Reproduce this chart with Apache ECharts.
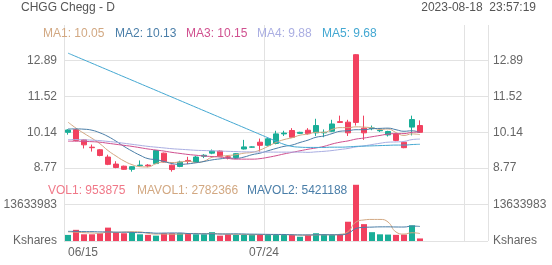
<!DOCTYPE html>
<html><head><meta charset="utf-8">
<script src="https://cdn.jsdelivr.net/npm/echarts@6/dist/echarts.min.js"></script>
<style>html,body{margin:0;padding:0;background:#fff}#c{width:552px;height:265px}</style>
</head><body><div id="c"></div>
<script>
// ---- data ----
const categories = ['06/15','06/16','06/20','06/21','06/22','06/23','06/26','06/27','06/28','06/29','06/30',
  '07/03','07/05','07/06','07/07','07/10','07/11','07/12','07/13','07/14','07/17','07/18','07/19','07/20','07/21',
  '07/24','07/25','07/26','07/27','07/28','07/31','08/01','08/02','08/03','08/04','08/07','08/08','08/09','08/10',
  '08/11','08/14','08/15','08/16','08/17','08/18',
  '08/21','08/22','08/23','08/24','08/25','08/28','08/29','08/30'];
const tradingDays = 45;
// [open, close, low, high]
const candles = [
  [10.14,10.23,10.05,10.26],[10.24,9.83,9.80,10.27],[9.85,9.66,9.52,9.88],[9.57,9.55,9.40,9.67],
  [9.47,9.25,9.22,9.50],[9.19,8.91,8.88,9.28],[8.92,8.79,8.76,9.03],[8.84,8.72,8.70,8.86],
  [8.72,8.82,8.63,8.84],[8.86,8.88,8.82,9.06],[8.88,8.85,8.80,8.92],[8.94,9.44,8.92,9.45],
  [9.34,9.00,8.98,9.36],[8.88,8.71,8.63,8.90],[8.83,9.00,8.80,9.05],[9.06,9.02,8.92,9.20],
  [9.00,9.19,8.98,9.23],[9.22,9.26,9.15,9.30],[9.34,9.42,9.30,9.48],[9.42,9.22,9.20,9.45],
  [9.20,9.18,9.10,9.25],[9.17,9.32,9.12,9.34],[9.50,9.58,9.48,9.85],[9.57,9.58,9.55,9.60],
  [9.76,9.64,9.40,9.90],[9.64,9.89,9.62,9.92],[9.71,10.08,9.68,10.20],[10.08,10.11,10.00,10.20],
  [10.21,9.95,9.93,10.30],[10.10,10.14,10.08,10.16],[10.22,10.09,10.05,10.30],[10.12,10.40,10.00,10.66],
  [10.12,10.14,9.95,10.25],[10.18,10.46,10.15,10.62],[10.55,10.52,10.50,10.78],[10.53,10.12,10.00,10.62],
  [13.12,10.52,10.40,13.14],[10.30,10.12,9.85,10.78],[10.28,10.31,10.22,10.40],[10.20,10.22,10.15,10.28],
  [10.04,10.17,9.98,10.20],[10.08,9.83,9.80,10.10],[9.76,9.55,9.53,9.78],[10.34,10.63,10.02,10.78],
  [10.40,10.14,10.12,10.60]
];
const ma1 = [10.53,10.30,10.10,9.91,9.70,9.44,9.23,9.04,8.90,8.82,8.81,8.94,9.00,8.98,9.00,9.03,8.98,9.03,9.18,9.22,
  9.25,9.28,9.34,9.37,9.46,9.60,9.75,9.86,9.93,10.03,10.07,10.14,10.14,10.25,10.32,10.32,10.35,10.34,10.31,10.25,
  10.27,10.13,10.02,10.08,10.05];
const ma2 = [10.27,10.27,10.26,10.22,10.12,9.98,9.80,9.60,9.42,9.26,9.13,9.09,9.02,8.94,8.91,8.93,8.97,9.02,9.08,9.12,
  9.15,9.14,9.19,9.28,9.34,9.43,9.52,9.60,9.65,9.75,9.84,9.95,10.00,10.09,10.18,10.20,10.24,10.24,10.28,10.29,
  10.30,10.24,10.18,10.20,10.13];
const ma3 = [9.80,9.80,9.79,9.78,9.76,9.72,9.68,9.64,9.60,9.55,9.50,9.46,9.42,9.37,9.33,9.29,9.26,9.23,9.21,9.19,
  9.14,9.11,9.11,9.11,9.13,9.18,9.24,9.31,9.37,9.43,9.49,9.54,9.60,9.69,9.76,9.81,9.88,9.92,9.97,10.02,
  10.07,10.09,10.09,10.14,10.15];
const ma4 = [9.86,9.86,9.85,9.84,9.82,9.79,9.76,9.72,9.68,9.64,9.60,9.57,9.54,9.51,9.49,9.47,9.45,9.44,9.43,9.42,
  9.41,9.40,9.39,9.39,9.38,9.38,9.38,9.38,9.38,9.38,9.37,9.39,9.41,9.44,9.48,9.52,9.58,9.62,9.67,9.72,
  9.76,9.77,9.79,9.86,9.88];
const ma5 = [13.18,13.05,12.92,12.79,12.66,12.53,12.40,12.27,12.14,12.01,11.88,11.75,11.62,11.49,11.36,11.23,11.10,10.97,10.84,10.71,
  10.58,10.45,10.32,10.19,10.06,9.93,9.80,9.68,9.60,9.57,9.56,9.56,9.56,9.57,9.57,9.58,9.60,9.61,9.62,9.63,
  9.64,9.65,9.65,9.67,9.68];
const volumes = [2270000,4170000,2500000,2500000,2900000,5000000,3300000,2900000,3300000,2500000,
  2300000,2000000,2900000,2900000,2900000,2900000,2500000,2500000,3300000,2000000,
  2500000,2300000,2300000,2500000,2500000,2300000,2300000,2300000,2300000,1600000,
  2300000,2900000,2500000,2300000,2500000,7200000,21000000,6300000,3300000,2500000,
  2400000,2300000,2400000,5860000,953875];
const mavol1 = [3400000,3300000,3100000,3000000,2870000,3410000,3240000,3320000,3480000,3400000,
  2860000,2600000,2600000,2520000,2600000,2720000,2820000,2740000,2820000,2640000,
  2560000,2520000,2480000,2320000,2420000,2380000,2380000,2380000,2340000,2160000,
  2160000,2280000,2320000,2320000,2500000,3480000,7100000,7860000,8060000,8060000,
  7100000,3360000,2580000,3090000,2782366];
const mavol2 = [3600000,3600000,3500000,3500000,3400000,3400000,3300000,3300000,3200000,3130000,
  3140000,2920000,2960000,3000000,3000000,2790000,2710000,2670000,2670000,2620000,
  2640000,2670000,2610000,2570000,2530000,2470000,2450000,2430000,2330000,2290000,
  2270000,2330000,2350000,2330000,2330000,2820000,4690000,5090000,5190000,5280000,
  5290000,5230000,5220000,5580000,5421188];
const priceTicks = [8.77, 10.14, 11.52, 12.89];
const volTicks = [0, 13633983];
const titleText = 'CHGG Chegg - D';
const timeText = '2023-08-18  23:57:19';
const maLegend = [['MA1', '10.05'], ['MA2', '10.13'], ['MA3', '10.15'], ['MA4', '9.88'], ['MA5', '9.68']];
const volLegend = [['VOL1', '953875'], ['MAVOL1', '2782366'], ['MAVOL2', '5421188']];

// ---- styling ----
const UP = '#1aae98', DOWN = '#f2415f';
const maColors = ['#d2a882', '#4a7ea8', '#d0508f', '#aaaee2', '#44a8d2'];
const volColors = ['#f07888', '#d2a882', '#4a7ea8'];
const maX = [43, 115, 186, 257, 322];
const volX = [48, 137, 247];
const FONT = '12px "Liberation Sans", Arial, sans-serif';
const GRID = '#e2e2e2';
const LBL = '#666';

const chart = echarts.init(document.getElementById('c'), null, {renderer: 'canvas'});
const graphic = [
  {type: 'text', left: 21, top: 2, style: {text: titleText, font: FONT, fill: '#555'}},
  {type: 'text', right: 16, top: 2, style: {text: timeText, font: FONT, fill: '#555'}}
];
maLegend.forEach((m, i) => graphic.push({type: 'text', left: maX[i], top: 28, z: 10,
  style: {text: m[0] + ': ' + m[1], font: FONT, fill: maColors[i]}}));
volLegend.forEach((m, i) => graphic.push({type: 'text', left: volX[i], top: 185, z: 10,
  style: {text: m[0] + ': ' + m[1], font: FONT, fill: volColors[i]}}));

function xAx(gi, showLabel) {
  return {
    type: 'category', gridIndex: gi, data: categories, boundaryGap: true,
    axisLine: {show: false}, axisTick: {show: false, interval: 24},
    axisLabel: {show: showLabel, interval: 24, color: LBL, fontSize: 12, margin: 6,
      padding: [0, 8, 0, 0],
      fontFamily: '"Liberation Sans", Arial, sans-serif', alignMinLabel: 'left',
      formatter: (v, idx) => idx < tradingDays ? v : ''},
    splitLine: {show: true, interval: 24, lineStyle: {color: GRID, width: 1}}
  };
}
function yAx(gi, pos, min, max, ticks, fmt, split) {
  return {
    type: 'value', gridIndex: gi, position: pos, min: min, max: max, scale: true,
    axisLine: {show: false},
    axisTick: {show: false, customValues: ticks},
    axisLabel: {customValues: ticks, color: LBL, fontSize: 12, margin: pos === 'left' ? 7 : 5,
      fontFamily: '"Liberation Sans", Arial, sans-serif', formatter: fmt},
    splitLine: {show: split, lineStyle: {color: GRID, width: 1}}
  };
}
const priceFmt = v => v.toFixed(2);
const volFmt = v => v === 0 ? 'Kshares' : String(Math.round(v));

const series = [{
  type: 'candlestick', xAxisIndex: 0, yAxisIndex: 0, data: candles, barWidth: 6,
  itemStyle: {color: UP, color0: DOWN, borderColor: UP, borderColor0: DOWN, borderWidth: 1}
}];
[ma1, ma2, ma3, ma4, ma5].forEach((d, i) => series.push({
  type: 'line', xAxisIndex: 0, yAxisIndex: 0, data: d, symbol: 'none', smooth: true,
  lineStyle: {width: 1, color: maColors[i]}, silent: true, z: 3
}));
series.push({
  type: 'bar', xAxisIndex: 1, yAxisIndex: 2, barWidth: 6,
  data: volumes.map((v, i) => ({value: v, itemStyle: {color: candles[i][1] >= candles[i][0] ? UP : DOWN}}))
});
[mavol1, mavol2].forEach((d, i) => series.push({
  type: 'line', xAxisIndex: 1, yAxisIndex: 2, data: d, symbol: 'none', smooth: true,
  lineStyle: {width: 1, color: volColors[i + 1]}, silent: true, z: 3
}));

chart.setOption({
  animation: false,
  backgroundColor: '#fff',
  grid: [
    {left: 64, right: 64, top: 25, height: 143},
    {left: 64, right: 64, top: 168, height: 73}
  ],
  xAxis: [xAx(0, false), xAx(1, true)],
  yAxis: [
    yAx(0, 'left', 8.77, 14.26, priceTicks, priceFmt, true),
    yAx(0, 'right', 8.77, 14.26, priceTicks, priceFmt, false),
    yAx(1, 'left', 0, 27267966, volTicks, volFmt, true),
    yAx(1, 'right', 0, 27267966, volTicks, volFmt, false)
  ],
  graphic: graphic,
  series: series
});
</script></body></html>
